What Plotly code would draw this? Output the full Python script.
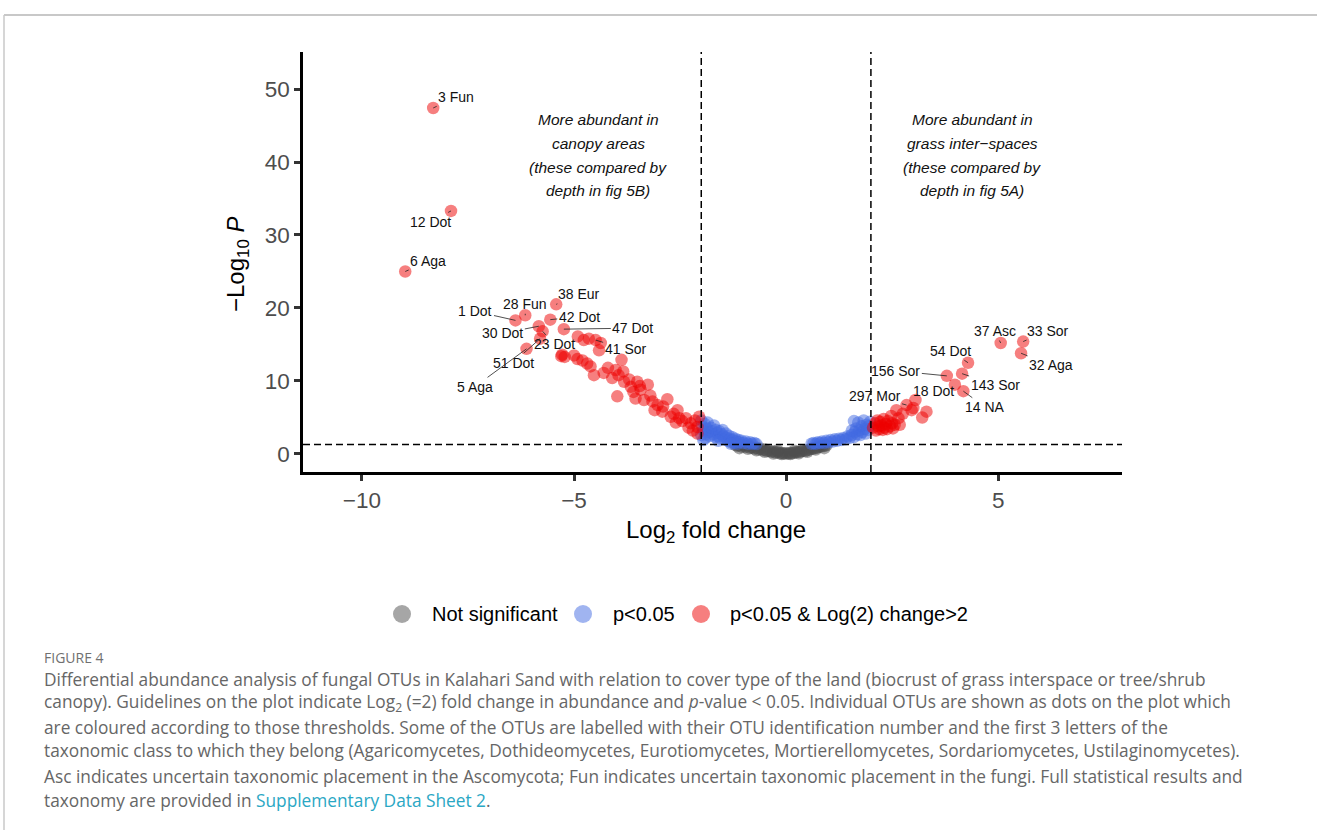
import plotly.graph_objects as go

# ---------------- data ----------------
ns_x = [-1.2, -1.15, -1.1, -1.05, -1.0, -0.95, -0.9, -0.85, -0.8, -0.75, -0.7, -0.65, -0.6, -0.55,
        -0.5, -0.45, -0.4, -0.35, -0.3, -0.25, -0.2, -0.15, -0.1, -0.05, 0.0, 0.05, 0.1, 0.15, 0.2,
        0.25, 0.3, 0.35, 0.4, 0.45, 0.5, 0.55, 0.6, 0.65, 0.7, 0.75, 0.8, 0.85, 0.9, 0.95,
        -0.9, -0.7, -0.5, -0.3, -0.1, 0.1, 0.3, 0.5, 0.7, -1.1, 0.9, -0.2, 0.2]
ns_y = [1.25, 1.1, 1.2, 1.0, 1.15, 0.95, 1.1, 0.85, 0.9, 0.75, 0.85, 0.6, 0.7, 0.5,
        0.6, 0.4, 0.45, 0.3, 0.35, 0.2, 0.25, 0.1, 0.15, 0.05, 0.1, 0.05, 0.15, 0.1, 0.2,
        0.25, 0.3, 0.35, 0.45, 0.4, 0.55, 0.6, 0.7, 0.75, 0.85, 0.9, 1.0, 1.05, 1.1, 1.2,
        0.7, 0.5, 0.3, 0.05, 0.0, 0.0, 0.1, 0.3, 0.6, 0.8, 0.8, 0.5, 0.45]

p_x = [-2.0, -1.98, -1.95, -1.92, -1.9, -1.87, -1.85, -1.82, -1.8, -1.77, -1.75, -1.72, -1.7, -1.67,
       -1.65, -1.62, -1.6, -1.57, -1.55, -1.52, -1.5, -1.47, -1.45, -1.42, -1.4, -1.37, -1.35, -1.32,
       -1.3, -1.27, -1.25, -1.22, -1.2, -1.17, -1.15, -1.12, -1.1, -1.05, -1.0, -0.95, -0.9, -0.85,
       -0.8, -0.75, -0.7, -1.9, -1.6, -1.3, -2.0, -1.95,
       0.6, 0.65, 0.7, 0.75, 0.8, 0.85, 0.9, 0.95, 1.0, 1.05, 1.1, 1.15, 1.2, 1.25, 1.3, 1.35, 1.4,
       1.45, 1.5, 1.55, 1.6, 1.62, 1.65, 1.68, 1.7, 1.72, 1.75, 1.78, 1.8, 1.83, 1.85, 1.88, 1.9,
       1.93, 1.95, 1.98, 1.6, 1.55]
p_y = [4.6, 3.8, 3.2, 4.1, 2.7, 3.5, 4.3, 3.0, 2.5, 3.6, 3.1, 2.7, 3.9, 2.3,
       3.3, 2.9, 2.4, 3.1, 2.1, 2.7, 3.3, 2.4, 2.0, 2.8, 2.2, 1.8, 2.5, 2.0,
       1.6, 2.3, 1.9, 1.5, 2.1, 1.7, 1.4, 1.9, 1.6, 1.8, 1.5, 1.7, 1.4, 1.6,
       1.4, 1.5, 1.35, 2.2, 1.8, 1.4, 2.6, 1.9,
       1.4, 1.5, 1.4, 1.6, 1.5, 1.7, 1.5, 1.8, 1.6, 1.9, 1.7, 2.0, 1.8, 2.1, 1.9, 2.2, 2.0,
       2.4, 2.2, 2.6, 2.3, 3.0, 3.5, 2.7, 4.3, 3.2, 2.6, 3.8, 3.0, 4.6, 3.4, 2.8, 4.0,
       3.3, 3.8, 4.4, 4.5, 3.2]

sig_x = [-8.32, -7.9, -8.98, -6.38, -6.15, -5.42, -5.56, -5.83, -5.74, -5.24, -6.12, -5.8,
         -5.28, -5.3, -5.22, -4.91, -4.77, -4.65, -4.49, -4.37, -4.41, -4.92, -4.69, -4.61,
         -4.53, -4.30, -4.10, -4.02, -3.88, -3.84, -3.82, -3.98, -3.66, -3.51, -3.43, -3.26,
         -3.55, -3.35, -3.15, -3.03, -2.80, -2.92, -2.72, -2.56, -2.52, -2.36, -2.25, -2.09,
         -2.05, -2.09, -3.6, -3.2, -2.9, -2.65, -2.45, -2.2, -2.15, -3.7, -3.1, -2.6, -2.3,
         -5.0, -4.8, -4.2, -3.95, -3.45,
         2.05, 2.1, 2.12, 2.15, 2.18, 2.2, 2.22, 2.25, 2.28, 2.3, 2.32, 2.35, 2.38, 2.4, 2.45,
         2.48, 2.5, 2.52, 2.56, 2.6, 2.65, 2.68, 2.75, 2.84, 2.96, 3.05, 3.21, 3.31, 3.0,
         3.79, 3.98, 4.15, 4.18, 4.29, 5.06, 5.59, 5.54]
sig_y = [47.4, 33.3, 25.0, 18.3, 19.0, 20.5, 18.4, 17.5, 16.8, 17.1, 14.4, 15.8,
         13.6, 13.4, 13.3, 16.1, 15.6, 15.8, 15.6, 15.2, 14.2, 13.0, 12.4, 12.0,
         10.8, 11.1, 10.4, 11.5, 12.9, 11.3, 9.9, 7.9, 9.2, 9.9, 8.8, 9.5,
         7.6, 7.4, 7.2, 6.7, 7.5, 5.8, 5.1, 6.0, 4.9, 4.9, 4.2, 3.7,
         5.1, 2.8, 8.5, 8.0, 6.5, 5.5, 4.5, 3.2, 4.6, 10.2, 6.0, 4.3, 3.6,
         13.5, 12.8, 11.8, 10.8, 9.3,
         3.6, 4.2, 3.2, 4.6, 3.8, 3.4, 4.4, 3.9, 3.3, 4.8, 3.6, 4.1, 3.4, 4.5, 3.8,
         5.2, 4.2, 3.5, 4.0, 6.0, 4.9, 4.0, 5.5, 6.7, 6.0, 7.4, 5.0, 5.8, 6.3,
         10.7, 9.5, 11.0, 8.6, 12.5, 15.2, 15.4, 13.8]

# labelled OTUs: label, x, y, text offset (px)
lab_text = ["3 Fun", "12 Dot", "6 Aga", "1 Dot", "28 Fun", "38 Eur", "42 Dot", "30 Dot",
            "23 Dot", "47 Dot", "41 Sor", "51 Dot", "5 Aga",
            "37 Asc", "33 Sor", "32 Aga", "54 Dot", "156 Sor", "143 Sor", "14 NA",
            "18 Dot", "297 Mor"]
lab_x = [-8.32, -7.9, -8.98, -6.38, -6.15, -5.42, -5.56, -5.83, -5.74, -5.24, -4.49, -5.8, -6.12,
         5.06, 5.59, 5.54, 4.29, 3.79, 4.15, 4.18, 3.05, 2.84]
lab_y = [47.4, 33.3, 25.0, 18.3, 19.0, 20.5, 18.4, 17.5, 16.8, 17.1, 15.6, 15.8, 14.4,
         15.2, 15.4, 13.8, 12.5, 10.7, 11.0, 8.6, 7.4, 6.7]
lab_ax = [23, -21, 23, -40, 0, 23, 29, -36, 12, 69, 30, -27, -52,
          -6, 25, 30, -18, -51, 33, 22, 18, -32]
lab_ay = [-11, 11, -10, -9, -11, -10, -3, 7, 13, -1, 9, 24, 38,
          -12, -11, 12, -12, -5, 11, 16, -9, -9]

x_ticks = [-10, -5, 0, 5]
y_ticks = [0, 10, 20, 30, 40, 50]
fc_cut = 2
p_cut = 1.30103

legend_names = ["Not significant", "p&lt;0.05", "p&lt;0.05 &amp; Log(2) change&gt;2"]
legend_colors = ["rgba(77,77,77,0.5)", "rgba(65,105,225,0.5)", "rgba(238,0,0,0.5)"]

caption_lines = [
    "Differential abundance analysis of fungal OTUs in Kalahari Sand with relation to cover type of the land (biocrust of grass interspace or tree/shrub",
    "canopy). Guidelines on the plot indicate Log<sub>2</sub> (=2) fold change in abundance and <i>p</i>-value &lt; 0.05. Individual OTUs are shown as dots on the plot which",
    "are coloured according to those thresholds. Some of the OTUs are labelled with their OTU identification number and the first 3 letters of the",
    "taxonomic class to which they belong (Agaricomycetes, Dothideomycetes, Eurotiomycetes, Mortierellomycetes, Sordariomycetes, Ustilaginomycetes).",
    "Asc indicates uncertain taxonomic placement in the Ascomycota; Fun indicates uncertain taxonomic placement in the fungi. Full statistical results and",
    "taxonomy are provided in <span style='color:#2AA7C4'>Supplementary Data Sheet 2</span>.",
]
left_note = ["More abundant in", "canopy areas", "(these compared by", "depth in fig 5B)"]
right_note = ["More abundant in", "grass inter\u2212spaces", "(these compared by", "depth in fig 5A)"]

# ---------------- layout geometry ----------------
W, H = 1317, 830
L, R, T, B = 303, 1122, 52, 472


def px(xp):
    return (xp - L) / (R - L)


def py(yp):
    return (B - yp) / (B - T)


FONT = "Liberation Sans, Arial, sans-serif"
CAP_FONT = "Open Sans, sans-serif"
fig = go.Figure()
ms = 12.5
fig.add_trace(go.Scatter(x=ns_x, y=ns_y, mode="markers", name=legend_names[0],
                         marker=dict(color="#4D4D4D", size=ms, opacity=0.5, line=dict(width=0))))
fig.add_trace(go.Scatter(x=p_x, y=p_y, mode="markers", name=legend_names[1],
                         marker=dict(color="#4169E1", size=ms, opacity=0.5, line=dict(width=0))))
fig.add_trace(go.Scatter(x=sig_x, y=sig_y, mode="markers", name=legend_names[2],
                         marker=dict(color="#EE0000", size=ms, opacity=0.5, line=dict(width=0))))

shapes = []
for xv in (-fc_cut, fc_cut):
    shapes.append(dict(type="line", xref="x", yref="paper", x0=xv, x1=xv, y0=0, y1=1,
                       line=dict(color="black", width=1.5, dash="7px,4px")))
shapes.append(dict(type="line", xref="paper", yref="y", x0=0, x1=1, y0=p_cut, y1=p_cut,
                   line=dict(color="black", width=1.5, dash="7px,4px")))
# outer figure frame
shapes.append(dict(type="line", xref="paper", yref="paper", x0=px(4), x1=px(1330), y0=py(15), y1=py(15),
                   line=dict(color="#C8C8C8", width=2)))
shapes.append(dict(type="line", xref="paper", yref="paper", x0=px(4), x1=px(4), y0=py(15), y1=py(840),
                   line=dict(color="#C8C8C8", width=1.5)))

ann = []
for t, xv, yv, ax, ay in zip(lab_text, lab_x, lab_y, lab_ax, lab_ay):
    ann.append(dict(x=xv, y=yv, xref="x", yref="y", text=t, showarrow=True, arrowhead=0,
                    arrowwidth=0.8, arrowcolor="#222", ax=ax, ay=ay, standoff=0, startstandoff=0,
                    font=dict(family=FONT, size=14, color="#111")))

line_y = [119, 143, 167, 190]
for i in range(4):
    ann.append(dict(x=px(598), y=py(line_y[i]), xref="paper", yref="paper", text="<i>" + left_note[i] + "</i>",
                    showarrow=False, xanchor="center", yanchor="middle",
                    font=dict(family=FONT, size=15.5, color="#111")))
    ann.append(dict(x=px(972), y=py(line_y[i]), xref="paper", yref="paper", text="<i>" + right_note[i] + "</i>",
                    showarrow=False, xanchor="center", yanchor="middle",
                    font=dict(family=FONT, size=15.5, color="#111")))

# axis titles
ann.append(dict(x=px(716), y=py(531), xref="paper", yref="paper", text="Log<sub>2</sub> fold change",
                showarrow=False, xanchor="center", yanchor="middle",
                font=dict(family=FONT, size=24, color="black")))
ann.append(dict(x=px(237), y=py(265), xref="paper", yref="paper", text="\u2212Log<sub>10</sub> <i>P</i>",
                showarrow=False, xanchor="center", yanchor="middle", textangle=-90,
                font=dict(family=FONT, size=24, color="black")))

# legend (drawn below the panel, like the reference)
leg_circle_x = [402, 583, 701]
leg_text_x = [430, 611, 728]
leg_y = 614
for nm, col, cx, tx in zip(legend_names, legend_colors, leg_circle_x, leg_text_x):
    shapes.append(dict(type="circle", xref="paper", yref="paper", xsizemode="pixel", ysizemode="pixel",
                       xanchor=px(cx), yanchor=py(leg_y), x0=-9, x1=9, y0=-9, y1=9,
                       fillcolor=col, line=dict(width=0)))
    ann.append(dict(x=px(tx), y=py(leg_y), xref="paper", yref="paper", text=nm, showarrow=False,
                    xanchor="left", yanchor="middle", font=dict(family=FONT, size=20, color="black")))

# caption
ann.append(dict(x=px(42), y=py(657), xref="paper", yref="paper", text="FIGURE 4", showarrow=False,
                xanchor="left", yanchor="middle", font=dict(family=CAP_FONT, size=14, color="#707070")))
cap_y = [679, 703, 727, 751, 776, 800]
for t, yy in zip(caption_lines, cap_y):
    ann.append(dict(x=px(42), y=py(yy), xref="paper", yref="paper", text=t, showarrow=False,
                    xanchor="left", yanchor="middle",
                    font=dict(family=CAP_FONT, size=17.3, color="#666666")))

fig.update_layout(
    width=W, height=H,
    margin=dict(l=L, r=W - R, t=T, b=H - B, pad=0),
    plot_bgcolor="white", paper_bgcolor="white",
    shapes=shapes, annotations=ann,
    showlegend=False,
)
fig.update_xaxes(range=[-11.39, 7.92], tickvals=x_ticks, ticktext=["\u221210", "\u22125", "0", "5"],
                 showline=True, linecolor="black", linewidth=2.5, ticks="outside", ticklen=6,
                 tickwidth=2.5, tickcolor="#333", showgrid=False, zeroline=False,
                 tickfont=dict(family=FONT, size=22.5, color="#4D4D4D"))
fig.update_yaxes(range=[-2.47, 55.07], tickvals=y_ticks,
                 showline=True, linecolor="black", linewidth=2.5, ticks="outside", ticklen=6,
                 tickwidth=2.5, tickcolor="#333", showgrid=False, zeroline=False,
                 tickfont=dict(family=FONT, size=22.5, color="#4D4D4D"))

fig.write_html("out.html")
